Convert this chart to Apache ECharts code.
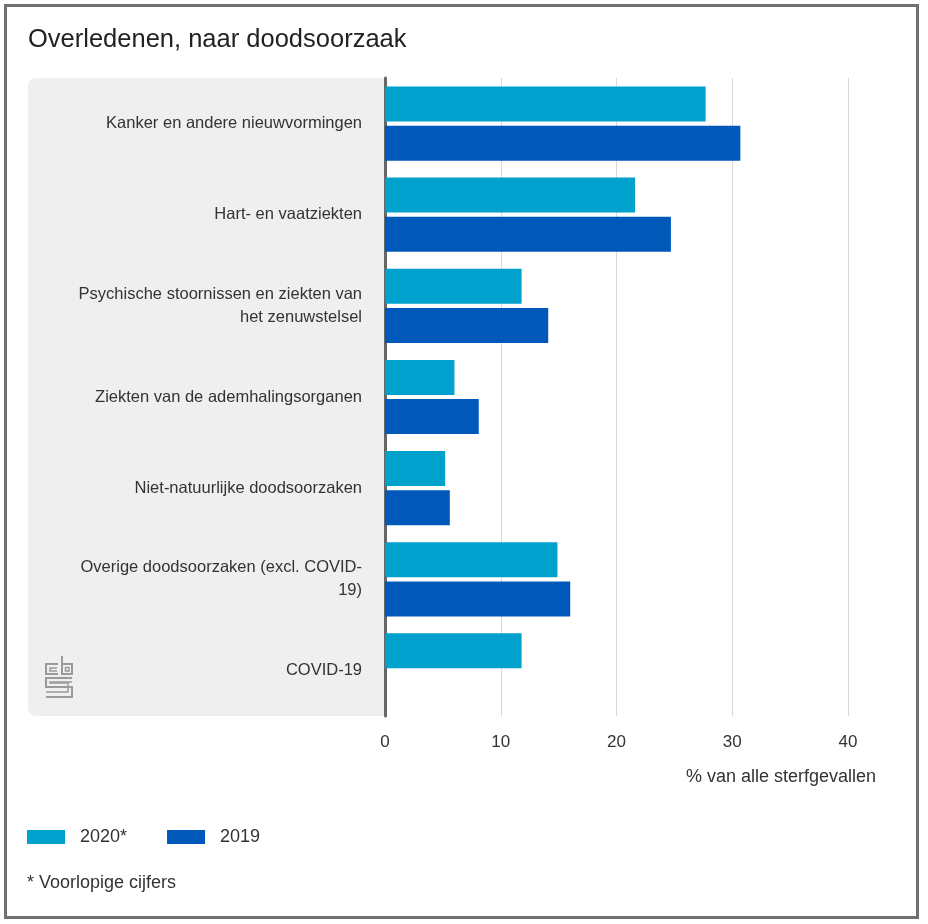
<!DOCTYPE html>
<html>
<head>
<meta charset="utf-8">
<script src="https://cdn.jsdelivr.net/npm/echarts@6/dist/echarts.min.js"></script>
<style>
html,body{margin:0;padding:0;background:#fff;}
#chart{width:928px;height:924px;}
</style>
</head>
<body>
<div id="chart"></div>
<script>
const categories = [
  "Kanker en andere nieuwvormingen",
  "Hart- en vaatziekten",
  "Psychische stoornissen en ziekten van\nhet zenuwstelsel",
  "Ziekten van de ademhalingsorganen",
  "Niet-natuurlijke doodsoorzaken",
  "Overige doodsoorzaken (excl. COVID-\n19)",
  "COVID-19"
];
const values2020 = [27.7, 21.6, 11.8, 6.0, 5.2, 14.9, 11.8];
const values2019 = [30.7, 24.7, 14.1, 8.1, 5.6, 16.0, null];
const seriesNames = ["2020*", "2019"];
const xTicks = [0, 10, 20, 30, 40];

const FONT = "'Liberation Sans', Arial, sans-serif";
const chart = echarts.init(document.getElementById('chart'), null, {renderer: 'canvas'});
chart.setOption({
  animation: false,
  backgroundColor: '#ffffff',
  textStyle: {fontFamily: FONT},
  title: {
    text: 'Overledenen, naar doodsoorzaak',
    left: 23, top: 22,
    textStyle: {fontFamily: FONT, fontSize: 25.5, fontWeight: 'normal', color: '#222'}
  },
  legend: {
    data: seriesNames,
    left: 22, top: 823,
    icon: 'rect',
    itemWidth: 38, itemHeight: 14,
    itemGap: 40,
    textStyle: {fontFamily: FONT, fontSize: 18, color: '#333', padding: [0, 0, 0, 10]}
  },
  grid: {left: 385, right: 80, top: 78, bottom: 208, containLabel: false},
  xAxis: {
    type: 'value',
    min: xTicks[0], max: xTicks[xTicks.length - 1], interval: 10,
    axisLine: {show: false},
    axisTick: {show: false},
    splitLine: {show: true, lineStyle: {color: '#d9d9d9', width: 1}},
    axisLabel: {fontFamily: FONT, fontSize: 17, color: '#333', margin: 18}
  },
  yAxis: {
    type: 'category',
    data: categories,
    inverse: true,
    axisLine: {show: true, lineStyle: {color: '#666', width: 3}},
    axisTick: {show: false},
    axisLabel: {fontFamily: FONT, fontSize: 16.5, color: '#333', margin: 23, lineHeight: 23, align: 'right'}
  },
  graphic: [
    {type: 'rect', z: -10, silent: true,
     shape: {x: 28, y: 78, width: 357, height: 638, r: [8, 0, 0, 8]},
     style: {fill: '#efefef'}},
    {type: 'rect', z: 100, silent: true,
     shape: {x: 5.5, y: 5.5, width: 912, height: 912},
     style: {fill: 'none', stroke: '#707070', lineWidth: 3}},
    {type: 'text', silent: true, x: 876, y: 777,
     style: {text: '% van alle sterfgevallen', fontFamily: FONT, fontSize: 18, fill: '#333', align: 'right', verticalAlign: 'middle'}},
    {type: 'text', silent: true, x: 27, y: 883,
     style: {text: '* Voorlopige cijfers', fontFamily: FONT, fontSize: 18, fill: '#333', align: 'left', verticalAlign: 'middle'}},
    {type: 'group', silent: true, children: [
      {type: 'polyline', shape: {points: [[58,664],[46,664],[46,674],[58,674]]}, style: {stroke: '#9a9a9a', lineWidth: 2, fill: 'none'}},
      {type: 'polyline', shape: {points: [[57,668],[50,668],[50,671],[57,671]]}, style: {stroke: '#9a9a9a', lineWidth: 1.5, fill: 'none'}},
      {type: 'polyline', shape: {points: [[62,656],[62,674],[72,674],[72,664],[62,664]]}, style: {stroke: '#9a9a9a', lineWidth: 2, fill: 'none'}},
      {type: 'rect', shape: {x: 65.5, y: 667.5, width: 3.5, height: 3.5}, style: {stroke: '#9a9a9a', lineWidth: 1.5, fill: 'none'}},
      {type: 'polyline', shape: {points: [[72,678],[46,678],[46,687],[72,687],[72,697],[46,697]]}, style: {stroke: '#9a9a9a', lineWidth: 2, fill: 'none'}},
      {type: 'polyline', shape: {points: [[72,682],[50,682],[50,683],[68,683],[68,692],[46,692]]}, style: {stroke: '#9a9a9a', lineWidth: 1.5, fill: 'none'}}
    ]}
  ],
  series: [
    {name: seriesNames[0], type: 'bar', data: values2020, barWidth: 35, barGap: '12%',
     itemStyle: {color: '#00a1cd'}, z: 2},
    {name: seriesNames[1], type: 'bar', data: values2019, barWidth: 35,
     itemStyle: {color: '#0058b8'}, z: 2}
  ]
});
</script>
</body>
</html>
